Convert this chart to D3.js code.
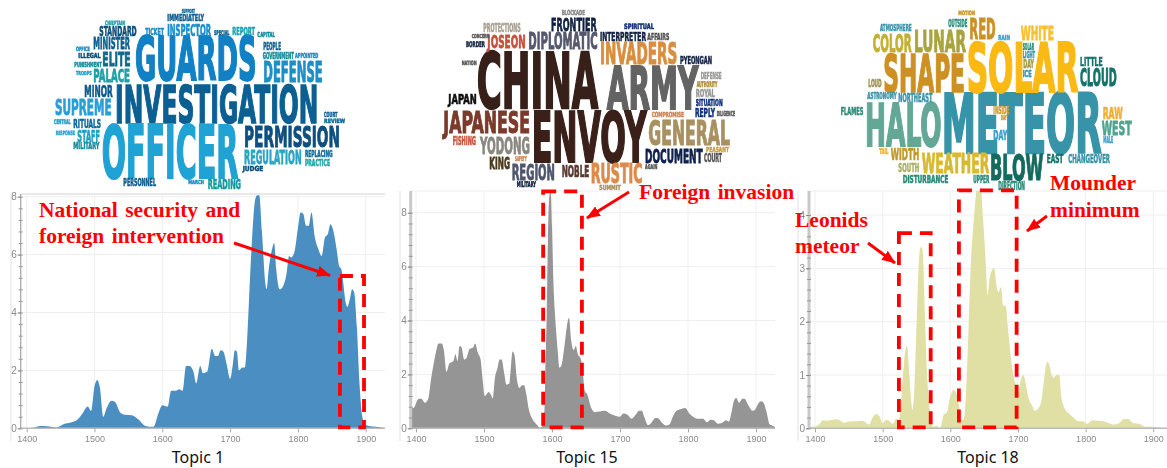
<!DOCTYPE html>
<html>
<head>
<meta charset="utf-8">
<script src="https://cdn.jsdelivr.net/npm/d3@7"></script>
<style>
html, body { margin: 0; padding: 0; background: #fff; overflow: hidden; }
svg { display: block; }
.tick text { font-family: "Liberation Sans", sans-serif; fill: #8a8a8a; }
.note { font-family: "Liberation Serif", serif; font-weight: bold; fill: #ff0000; font-size: 21.5px; word-spacing: 2px; }
.caption { font-family: "Noto Sans", sans-serif; font-size: 16px; fill: #111; text-anchor: middle; }
.word { font-family: "Liberation Sans Narrow", "DejaVu Sans Condensed", sans-serif; font-weight: bold; }
</style>
</head>
<body>
<svg id="chart" width="1167" height="468"></svg>
<script>
// ---- series ----
var years1 = [1395,1410,1420,1430,1444,1455,1465,1475,1482,1490,1495,1500,1504,1508,1513,1518,1525,1530,1538,1545,1555,1565,1575,1587,1594,1600,1608,1613,1620,1625,1630,1635,1640,1646,1650,1656,1660,1666,1673,1678,1682,1686,1690,1695,1700,1704,1707,1710,1713,1718,1722,1725,1730,1733,1737,1740,1743,1747,1752,1754,1757,1762,1765,1768,1773,1778,1783,1787,1790,1795,1800,1804,1808,1812,1816,1820,1825,1830,1835,1840,1844,1848,1852,1857,1861,1864,1867,1870,1873,1877,1880,1883,1887,1891,1895,1899,1905,1915,1927];
var values1 = [0,0.02,0.08,0.07,0.03,0.15,0.2,0.3,0.5,0.75,0.6,1.45,1.67,1.4,0.4,0.7,0.95,0.92,0.55,0.47,0.45,0.3,0.08,0.05,0.5,0.8,0.75,1.3,1.3,1.35,1.3,2.15,2.15,1.95,1.55,2.15,1.9,1.95,2.75,2.5,2.5,2.7,2.65,2.2,1.7,2.2,2.7,2.65,2.0,2.1,2.1,3.0,5.5,6.8,7.9,8.05,8.05,6.8,5.0,4.8,5.5,6.2,6.4,5.5,4.8,4.9,5.3,5.95,5.9,6.1,6.9,7.45,7.4,7.0,7.0,7.45,6.6,6.2,5.95,6.6,6.7,7.05,6.85,6.2,5.6,5.5,5.0,4.4,4.2,4.5,4.8,4.7,3.5,1.5,0.4,0.12,0.08,0.05,0.02];

var years15 = [1392,1396,1404,1408,1413,1418,1422,1426,1430,1433,1438,1441,1445,1449,1452,1455,1458,1461,1464,1467,1471,1474,1479,1484,1487,1491,1495,1498,1501,1507,1510,1513,1516,1520,1523,1526,1530,1533,1537,1539,1542,1545,1548,1552,1556,1559,1562,1566,1571,1577,1583,1586,1589,1590,1592,1594,1596,1598,1600,1602,1605,1608,1611,1614,1618,1622,1625,1628,1632,1635,1638,1642,1645,1648,1652,1657,1663,1670,1678,1685,1693,1700,1705,1711,1717,1723,1728,1732,1736,1741,1746,1752,1756,1762,1768,1773,1778,1783,1790,1796,1802,1808,1815,1822,1828,1833,1838,1844,1850,1856,1860,1864,1868,1871,1875,1880,1883,1889,1895,1899,1903,1908,1912,1916,1920,1926,1930];
var values15 = [0.8,0.75,1.1,1.1,0.95,1.1,1.8,2.4,2.9,3.15,3.15,2.9,2.1,2.4,2.45,2.5,2.75,2.5,3.05,3.0,2.55,2.6,2.95,3.0,3.15,2.8,2.55,1.8,1.2,1.35,1.25,1.1,1.85,2.25,2.55,2.55,2.0,1.62,1.65,2.1,2.85,2.7,1.9,1.5,1.6,1.6,1.3,0.7,0.35,0.15,0.02,0.1,0.7,2,4,7,8.6,8.8,7.5,5.5,4,3,2.25,2.35,3.0,3.8,4.1,3.3,2.9,3.05,2.75,2.6,2.2,1.4,1.25,0.8,0.6,0.62,0.65,0.55,0.47,0.43,0.55,0.5,0.35,0.5,0.65,0.65,0.4,0.12,0.2,0.38,0.37,0.2,0.1,0.15,0.45,0.65,0.72,0.75,0.55,0.42,0.35,0.35,0.22,0.32,0.3,0.17,0.2,0.3,0.25,0.6,1.05,1.12,0.95,1.1,1.1,0.85,0.65,0.7,0.9,1.0,0.9,0.55,0.15,0.08,0];

var years18 = [1392,1400,1405,1412,1418,1423,1430,1437,1443,1452,1460,1470,1480,1485,1490,1495,1500,1505,1510,1515,1520,1524,1527,1530,1534,1536,1539,1542,1544,1547,1550,1553,1556,1559,1562,1565,1568,1572,1575,1580,1585,1590,1595,1600,1605,1609,1614,1617,1620,1624,1627,1630,1634,1638,1641,1644,1648,1652,1655,1658,1661,1665,1668,1671,1675,1678,1682,1685,1689,1693,1697,1700,1704,1708,1712,1716,1720,1725,1730,1735,1738,1743,1746,1750,1753,1757,1761,1764,1768,1775,1782,1790,1796,1802,1810,1818,1826,1834,1842,1850,1856,1862,1870,1880,1888,1898,1908,1915];
var values18 = [0.03,0.03,0.06,0.15,0.14,0.15,0.17,0.15,0.1,0.13,0.13,0.14,0.07,0.2,0.27,0.23,0.1,0.16,0.13,0.08,0.18,0.15,0.45,1.0,1.5,1.55,1.1,0.55,0.35,0.8,1.9,3.0,3.4,3.35,2.3,1.2,0.55,0.15,0.03,0.05,0,0.25,0.3,0.6,0.72,0.65,0.35,0.15,0.18,0.9,1.9,3.0,3.8,4.4,4.7,4.7,4.0,3.2,2.5,2.8,2.95,3.0,2.7,2.55,2.65,2.3,2.3,1.9,1.4,1.0,0.8,0.65,0.9,1.0,0.8,0.55,0.45,0.33,0.37,0.55,0.85,1.25,1.2,1.0,0.95,1.0,1.0,0.6,0.4,0.28,0.2,0.13,0.13,0.08,0.15,0.14,0.13,0.1,0.07,0.1,0.17,0.18,0.1,0.08,0.03,0.03,0.02,0];

var yearTicks = [1400,1500,1600,1700,1800,1900];
var valueTicks1 = [0,2,4,6,8];
var valueTicks15 = [0,2,4,6,8];
var valueTicks18 = [0,1,2,3,4];
var topics = ["Topic 1","Topic 15","Topic 18"];

// ---- word clouds: words first, placement tables afterwards ----
var words1 = ["GUARDS","INVESTIGATION","OFFICER","PERMISSION","REGULATION","DEFENSE","PALACE","SUPREME","MINOR","ELITE","MINISTER","STANDARD","INSPECTOR","IMMEDIATELY","TICKET","REPORT","SPECIAL","CAPITAL","PEOPLE","GOVERNMENT","APPOINTED","RITUALS","STAFF","MILITARY","PERSONNEL","READING","MARCH","REPLACING","PRACTICE","JUDGE","COURT","REVIEW","CENTRAL","RESPONSE","CHIEFTAIN","OFFICE","ILLEGAL","PUNISHMENT","TROOPS","SUPPORT"];
var words15 = ["CHINA","ARMY","ENVOY","INVADERS","JAPANESE","GENERAL","DOCUMENT","RUSTIC","REGION","YODONG","DIPLOMATIC","FRONTIER","JOSEON","PROTECTIONS","INTERPRETER","AFFAIRS","BORDER","CONCERN","NOBLE","KING","FISHING","JAPAN","PYEONGAN","DEFENSE","AUTHORITY","ROYAL","SITUATION","REPLY","DILIGENCE","COMPROMISE","COURT","PEASANT","BLOCKADE","SAFETY","NATION","MILITARY","SUMMIT","AGAIN","SPIRITUAL"];
var words18 = ["METEOR","SOLAR","SHAPE","HALO","BLOW","WEATHER","LUNAR","COLOR","RED","WHITE","CLOUD","LITTLE","WEST","RAW","WIDTH","SOUTH","CHANGEOVER","EAST","DISTURBANCE","UPPER","DIRECTION","NORTHEAST","ATMOSPHERE","OUTSIDE","MOTION","FLAMES","LOUD","ASTRONOMY","DAY","INSIDE","DAY","DAY","LIGHT","SOLAR","ICE","RAIN","TAIL","MALE"];

// [left, right, top, bottom] in 3x crop pixels, then colour, same order as the words
var boxes1 = [[285,650,110,240,"#1180c4"],[225,835,255,368,"#0b5f92"],[185,595,378,535,"#1fa3d4"],[612,900,378,440,"#0d4f80"],[612,785,450,492,"#2aa5c4"],[670,848,185,245,"#1c8fc7"],[160,270,205,245,"#1ea0a8"],[45,215,298,345,"#2a9fd6"],[133,218,255,290,"#0e5a8a"],[187,272,155,198,"#0f6a8a"],[160,270,112,148,"#0d5f8f"],[178,290,78,108,"#0c4f7a"],[382,513,75,108,"#1a90cc"],[382,492,45,63,"#0c5f90"],[316,372,85,105,"#1a8ac0"],[577,645,83,106,"#1ba2b0"],[522,568,92,106,"#0c5f90"],[652,705,95,110,"#138a99"],[670,723,128,150,"#0d5f8f"],[668,762,158,178,"#138a99"],[765,835,160,175,"#1a8ac0"],[100,183,358,385,"#0d6a9a"],[112,180,392,425,"#1ea0c4"],[100,178,428,448,"#138a99"],[250,348,535,558,"#0d5a8c"],[503,603,535,567,"#159aa0"],[445,492,540,552,"#1a8ac0"],[795,878,453,472,"#0d6a9a"],[795,870,478,498,"#1ea6a8"],[608,670,497,512,"#0c4f7a"],[852,892,335,350,"#0d5a8c"],[852,915,355,368,"#0d6a9a"],[42,92,358,372,"#1ea0c4"],[47,105,392,405,"#2aa0d8"],[195,255,62,75,"#1ea0a8"],[108,150,140,153,"#1a8ac0"],[115,182,160,175,"#0c4f7a"],[103,185,185,200,"#138a99"],[108,155,212,224,"#1ea0c4"],[425,465,28,40,"#0d6a9a"]];
var boxes15 = [[140,505,160,325,"#38201a"],[530,805,200,328,"#636363"],[305,650,335,485,"#3a2018"],[510,742,128,192,"#d98e3f"],[40,300,335,400,"#7b3a2a"],[655,900,362,435,"#a89060"],[645,818,445,488,"#10204c"],[482,638,492,550,"#dd8a4a"],[245,375,495,540,"#50566c"],[150,300,412,462,"#888880"],[295,503,98,148,"#55586c"],[363,500,55,93,"#10203f"],[172,287,105,145,"#c8503c"],[160,272,72,97,"#a8a090"],[510,648,95,122,"#10203f"],[652,718,100,120,"#555555"],[108,165,125,142,"#10203f"],[125,178,103,115,"#555555"],[395,478,495,530,"#5a3a30"],[178,240,472,508,"#4a3a1a"],[68,138,410,435,"#c8503c"],[55,140,280,312,"#101010"],[750,846,168,192,"#10203f"],[812,875,218,238,"#999999"],[800,862,245,262,"#b08a30"],[797,855,270,292,"#999999"],[797,878,298,318,"#10307a"],[795,855,325,352,"#10307a"],[860,915,333,348,"#555555"],[665,762,335,350,"#d08050"],[822,876,462,487,"#555555"],[828,897,440,455,"#c8a040"],[395,465,30,45,"#888888"],[255,290,468,482,"#d08050"],[95,140,182,195,"#555555"],[260,318,545,562,"#10203f"],[508,572,555,570,"#a89060"],[645,682,492,506,"#555555"],[582,672,72,88,"#10307a"]];
var boxes18 = [[335,815,280,458,"#3794a8"],[410,745,130,275,"#fbb914"],[160,405,165,275,"#cc9122"],[105,335,310,438,"#63a896"],[480,640,465,540,"#146a5e"],[275,478,462,520,"#d9b92f"],[252,408,90,155,"#a9a43c"],[128,245,102,155,"#c4b030"],[418,497,58,118,"#cc9122"],[572,672,78,120,"#f8c030"],[750,860,205,258,"#147368"],[750,818,170,198,"#147368"],[815,905,362,405,"#4ca58c"],[818,878,325,358,"#f0b030"],[182,268,445,480,"#c09a2a"],[205,268,488,515,"#a9b060"],[715,840,462,490,"#3794a8"],[650,700,465,490,"#147368"],[218,355,528,550,"#2a8a78"],[430,478,528,550,"#2a8a78"],[505,585,545,570,"#2a8a78"],[205,307,280,305,"#3794a8"],[150,245,72,92,"#3794a8"],[355,412,58,82,"#2a8a78"],[385,435,32,45,"#cc9122"],[32,100,322,345,"#2a8a78"],[115,155,240,262,"#999050"],[112,200,280,298,"#3794a8"],[490,532,388,420,"#3aa0d0"],[490,538,318,342,"#d09a30"],[512,530,345,360,"#d09a30"],[580,612,178,205,"#a09a40"],[578,615,155,175,"#3794a8"],[578,612,130,150,"#2a8a78"],[578,605,212,232,"#3794a8"],[505,540,105,120,"#3aa0d0"],[148,175,445,462,"#f0b030"],[820,850,412,430,"#3aa0d0"]];

var svg = d3.select("#chart");

// clouds are laid out in the coordinates of the crops they were measured on
function drawCloud(words, boxes, ox, oy) {
	var g = svg.append("g")
		.attr("transform", "translate(" + ox + "," + oy + ") scale(" + (1 / 3) + ")")
		.style("filter", "blur(1.2px)");
	g.selectAll("text").data(words).join("text")
		.attr("class", "word")
		.attr("x", function(d, i) { return boxes[i][0]; })
		.attr("y", function(d, i) { return boxes[i][3]; })
		.attr("font-size", function(d, i) { return (boxes[i][3] - boxes[i][2]) / 0.72; })
		.attr("textLength", function(d, i) { return boxes[i][1] - boxes[i][0]; })
		.attr("lengthAdjust", "spacingAndGlyphs")
		.attr("fill", function(d, i) { return boxes[i][4]; })
		.attr("stroke", function(d, i) { return boxes[i][4]; })
		.attr("stroke-width", function(d, i) { return 1 + (boxes[i][3] - boxes[i][2]) * 0.035; })
		.text(function(d) { return d; });
}
drawCloud(words1, boxes1, 40, 0);
drawCloud(words15, boxes15, 430, 0);
drawCloud(words18, boxes18, 830, 0);

function drawPanel(opt) {
	var x = d3.scaleLinear().domain([1400, 1900]).range([opt.x1400, opt.x1900]);
	var y = d3.scaleLinear().domain([0, opt.topValue]).range([428.3, opt.yTop]);
	var id = "clip" + opt.index;

	svg.append("clipPath").attr("id", id).append("rect")
		.attr("x", opt.left).attr("y", opt.top)
		.attr("width", opt.right - opt.left).attr("height", 428.3 - opt.top);

	var g = svg.append("g").style("filter", "blur(0.5px)");

	// left frame line and top rule
	g.append("line").attr("x1", opt.frame).attr("x2", opt.frame).attr("y1", opt.top).attr("y2", 441).attr("stroke", "#e2e2e2");
	g.append("line").attr("x1", opt.left).attr("x2", opt.right).attr("y1", opt.top).attr("y2", opt.top).attr("stroke", opt.topRule).attr("stroke-width", 1.2);

	// grid
	g.selectAll(".gx").data(opt.xTicks).join("line")
		.attr("x1", x).attr("x2", x).attr("y1", opt.top).attr("y2", 428.3)
		.attr("stroke", "#efefef");
	g.selectAll(".gy").data(opt.yTicks.slice(1)).join("line")
		.attr("x1", opt.left).attr("x2", opt.right).attr("y1", y).attr("y2", y)
		.attr("stroke", "#efefef");

	var area = d3.area()
		.x(function(d) { return x(d[0]); })
		.y0(y(0))
		.y1(function(d) { return y(d[1]); })
		.curve(d3.curveMonotoneX);
	g.append("path")
		.datum(d3.zip(opt.years, opt.values))
		.attr("clip-path", "url(#" + id + ")")
		.attr("fill", opt.color)
		.attr("d", area);

	// axes
	var xAxis = d3.axisBottom(x).tickValues(yearTicks).tickSize(4).tickPadding(3).tickFormat(d3.format("d"));
	var gx = g.append("g").attr("transform", "translate(0,428.3)").call(xAxis);
	gx.selectAll(".tick text").attr("font-size", 9);
	gx.selectAll("line").attr("stroke", "#aaa");
	gx.select(".domain").attr("d", "M" + opt.left + ",0H" + opt.right).attr("stroke", "#bbb").attr("stroke-width", 1.4);

	var minor = d3.range(0, opt.topValue + 0.001, opt.minorStep);
	var gm = g.append("g").attr("transform", "translate(" + opt.left + ",0)")
		.call(d3.axisLeft(y).tickValues(minor).tickSize(2).tickFormat(""));
	gm.selectAll("line").attr("stroke", "#999").attr("x2", 2).attr("x1", -2);
	gm.select(".domain").attr("d", "M0," + opt.top + "V428.3").attr("stroke", opt.axisColor).attr("stroke-width", opt.axisWidth);

	var gy = g.append("g").attr("transform", "translate(" + opt.left + ",0)")
		.call(d3.axisLeft(y).tickValues(opt.yTicks).tickSize(3).tickPadding(1).tickFormat(d3.format("d")));
	gy.selectAll(".tick text").attr("font-size", 10);
	gy.selectAll("line").attr("stroke", "#888");
	gy.select(".domain").remove();

	svg.append("text").attr("class", "caption").attr("x", opt.captionX).attr("y", 463).text(opt.caption);

	// dashed call-out boxes follow the scales
	opt.boxes.forEach(function(b) {
		svg.append("rect")
			.attr("x", x(b[0])).attr("width", x(b[1]) - x(b[0]))
			.attr("y", y(b[2])).attr("height", y(0) - y(b[2]) - 1)
			.attr("fill", "none").attr("stroke", "#ff0000").attr("stroke-width", 3.8)
			.attr("stroke-dasharray", "13 8");
	});
}

drawPanel({ index: 1, years: years1, values: values1, color: "#4b8fc2", caption: topics[0], captionX: 198,
	x1400: 26.7, x1900: 365.7, yTop: 196.7, topValue: 8, yTicks: valueTicks1, xTicks: yearTicks, minorStep: 0.4,
	left: 20.7, right: 385, top: 194, frame: 11, topRule: "#d4d4d4", axisColor: "#aaa", axisWidth: 1.3,
	boxes: [[1862, 1897.5, 5.26]] });
drawPanel({ index: 2, years: years15, values: values15, color: "#959595", caption: topics[1], captionX: 587,
	x1400: 416, x1900: 756, yTop: 212.7, topValue: 8, yTicks: valueTicks15, xTicks: yearTicks, minorStep: 0.4,
	left: 410.7, right: 775, top: 191, frame: 400, topRule: "#eeeeee", axisColor: "#c8c8c8", axisWidth: 3,
	boxes: [[1587, 1644, 8.79]] });
drawPanel({ index: 3, years: years18, values: values18, color: "#e0e0a4", caption: topics[2], captionX: 988,
	x1400: 815, x1900: 1153.3, yTop: 215, topValue: 4, yTicks: valueTicks18, xTicks: yearTicks, minorStep: 0.2,
	left: 809, right: 1167, top: 191, frame: 798, topRule: "#eeeeee", axisColor: "#c8c8c8", axisWidth: 3,
	boxes: [[1524, 1571, 3.66], [1612.7, 1698, 4.46]] });

// annotations
var notes = [["National security and", 39, 217], ["foreign intervention", 39, 243], ["Foreign invasion", 639, 199],
	["Mounder", 1050, 190], ["minimum", 1050, 217], ["Leonids", 795, 227], ["meteor", 795, 253]];
svg.selectAll(".note").data(notes).join("text")
	.attr("class", "note")
	.attr("x", function(d) { return d[1]; })
	.attr("y", function(d) { return d[2]; })
	.text(function(d) { return d[0]; });

svg.append("defs").append("marker").attr("id", "head")
	.attr("markerUnits", "userSpaceOnUse")
	.attr("viewBox", "0 0 14 11").attr("refX", 13).attr("refY", 5.5)
	.attr("markerWidth", 14).attr("markerHeight", 11).attr("orient", "auto")
	.append("path").attr("d", "M0,0L14,5.5L0,11Z").attr("fill", "#ff0000");
var arrows = [[234, 243, 330, 275.5], [629, 192, 587, 218], [868, 243, 895, 263], [1047, 216, 1027, 231]];
svg.selectAll(".arrow").data(arrows).join("line")
	.attr("x1", function(d) { return d[0]; }).attr("y1", function(d) { return d[1]; })
	.attr("x2", function(d) { return d[2]; }).attr("y2", function(d) { return d[3]; })
	.attr("stroke", "#ff0000").attr("stroke-width", 3)
	.attr("marker-end", "url(#head)");
</script>
</body>
</html>
